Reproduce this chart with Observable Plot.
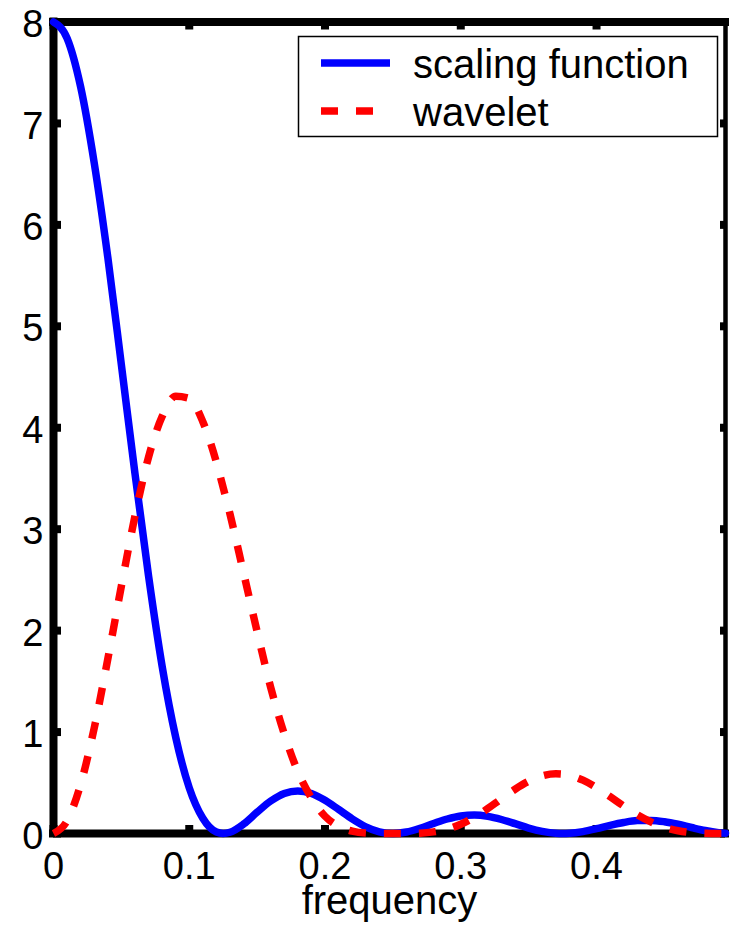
<!DOCTYPE html>
<html>
<head>
<meta charset="utf-8">
<script src="https://cdn.jsdelivr.net/npm/d3@7"></script>
<script src="https://cdn.jsdelivr.net/npm/@observablehq/plot@0.6"></script>
<style>
  html, body { margin: 0; padding: 0; background: #fff; }
  #chart { width: 730px; height: 933px; }
</style>
</head>
<body>
<div id="chart"></div>
<script>
// ---- data ----
const freq = [0, 0.01, 0.02, 0.03, 0.04, 0.05, 0.06, 0.07, 0.08, 0.09,
  0.10, 0.11, 0.12, 0.125, 0.13, 0.14, 0.15, 0.16, 0.17, 0.18, 0.19,
  0.20, 0.21, 0.22, 0.23, 0.24, 0.25, 0.26, 0.27, 0.28, 0.29,
  0.30, 0.31, 0.32, 0.33, 0.34, 0.35, 0.36, 0.37, 0.375, 0.38, 0.39,
  0.40, 0.41, 0.42, 0.43, 0.44, 0.45, 0.46, 0.47, 0.48, 0.49, 0.495];

const scalingFunction = [8, 7.84, 7.36, 6.61, 5.68, 4.62, 3.55, 2.54, 1.65, 0.95,
  0.45, 0.15, 0.014, 0, 0.012, 0.093, 0.21, 0.32, 0.395, 0.42, 0.394,
  0.327, 0.237, 0.144, 0.066, 0.017, 0, 0.015, 0.052, 0.099, 0.143,
  0.173, 0.182, 0.169, 0.138, 0.097, 0.054, 0.021, 0.002, 0, 0.002, 0.019,
  0.048, 0.081, 0.109, 0.127, 0.129, 0.116, 0.091, 0.059, 0.029, 0.008, 0.002];

const wavelet = [0, 0.125, 0.485, 1.04, 1.72, 2.44, 3.13, 3.71, 4.11, 4.31,
  4.29, 4.06, 3.66, 3.41, 3.15, 2.57, 1.99, 1.44, 0.98, 0.61, 0.35,
  0.17, 0.072, 0.023, 0.004, 0, 0, 0, 0.003, 0.016, 0.043,
  0.091, 0.16, 0.247, 0.343, 0.436, 0.515, 0.569, 0.589, 0.586, 0.574, 0.526,
  0.452, 0.363, 0.271, 0.185, 0.114, 0.061, 0.027, 0.009, 0.002, 0, 0];

const seriesNames = ["scaling function", "wavelet"];
const seriesColors = ["#0000ff", "#ff0000"];
const xTicks = [0, 0.1, 0.2, 0.3, 0.4];
const yTicks = [0, 1, 2, 3, 4, 5, 6, 7, 8];
const xDomain = [0, 0.495];
const yDomain = [0, 8];
const xLabel = "frequency";

// ---- layout ----
const W = 730, H = 933;
const mL = 53, mR = 5, mT = 21.5, mB = 100;
const frameW = W - mL - mR, frameH = H - mT - mB;
const font = "'Liberation Sans', Arial, Helvetica, sans-serif";

const rows = [];
freq.forEach((f, i) => {
  rows.push({f, v: scalingFunction[i], s: seriesNames[0]});
  rows.push({f, v: wavelet[i], s: seriesNames[1]});
});

const border = {stroke: "black", strokeWidth: 8, strokeLinecap: "square"};
const tick = {stroke: "black", strokeWidth: 8};

const chart = Plot.plot({
  width: W, height: H,
  marginLeft: mL, marginRight: mR, marginTop: mT, marginBottom: mB,
  style: {fontFamily: font, background: "white", color: "black", overflow: "visible"},
  x: {domain: xDomain},
  y: {domain: yDomain},
  marks: [
    // box
    Plot.ruleY([yDomain[0]], border),
    Plot.ruleY([yDomain[1]], border),
    Plot.ruleX([xDomain[0]], border),
    Plot.ruleX([xDomain[1]], {stroke: "black", strokeWidth: 4.5, strokeLinecap: "square"}),
    // inward ticks
    Plot.ruleX(xTicks, {x: d => d, insetTop: frameH - 8, ...tick}),
    Plot.ruleX(xTicks, {x: d => d, insetBottom: frameH - 8, ...tick}),
    Plot.ruleY(yTicks, {y: d => d, insetRight: frameW - 8, ...tick}),
    Plot.ruleY(yTicks, {y: d => d, insetLeft: frameW - 5, ...tick}),
    // tick labels
    Plot.axisX(xTicks, {anchor: "bottom", tickSize: 0, tickPadding: 19, fontSize: 38, label: null,
      tickFormat: d => d === 0 ? "0" : String(d)}),
    Plot.axisY(yTicks, {anchor: "left", tickSize: 0, tickPadding: 10, fontSize: 38, label: null, dy: 3,
      tickFormat: d => String(d)}),
    // axis label
    Plot.text([xLabel], {text: d => d, frameAnchor: "bottom", dy: 80, fontSize: 40}),
    // curves
    Plot.line(rows.filter(d => d.s === seriesNames[0]), {
      x: "f", y: "v", stroke: seriesColors[0], strokeWidth: 7.5, curve: "monotone-x",
      strokeLinecap: "round", strokeLinejoin: "round"}),
    Plot.line(rows.filter(d => d.s === seriesNames[1]), {
      x: "f", y: "v", stroke: seriesColors[1], strokeWidth: 7.5, curve: "monotone-x",
      strokeDasharray: "17,18", strokeLinecap: "butt", strokeLinejoin: "round"})
  ]
});

// ---- legend (drawn inside the axes, top right) ----
const svg = d3.select(chart);
const lg = svg.append("g").attr("font-family", font).attr("text-anchor", "start");
lg.append("rect").attr("x", 298.5).attr("y", 36.5).attr("width", 419).attr("height", 100)
  .attr("fill", "white").attr("stroke", "black").attr("stroke-width", 1.5);
const legendY = [63, 111];
seriesNames.forEach((name, i) => {
  lg.append("line").attr("x1", 321).attr("x2", i === 0 ? 390 : 374)
    .attr("y1", legendY[i]).attr("y2", legendY[i])
    .attr("stroke", seriesColors[i]).attr("stroke-width", 7.5)
    .attr("stroke-dasharray", i === 0 ? null : "17,18");
  lg.append("text").attr("x", 413).attr("y", legendY[i] + 15)
    .attr("font-size", 40).attr("fill", "black").attr("text-anchor", "start").text(name);
});

document.getElementById("chart").appendChild(chart);
</script>
</body>
</html>
